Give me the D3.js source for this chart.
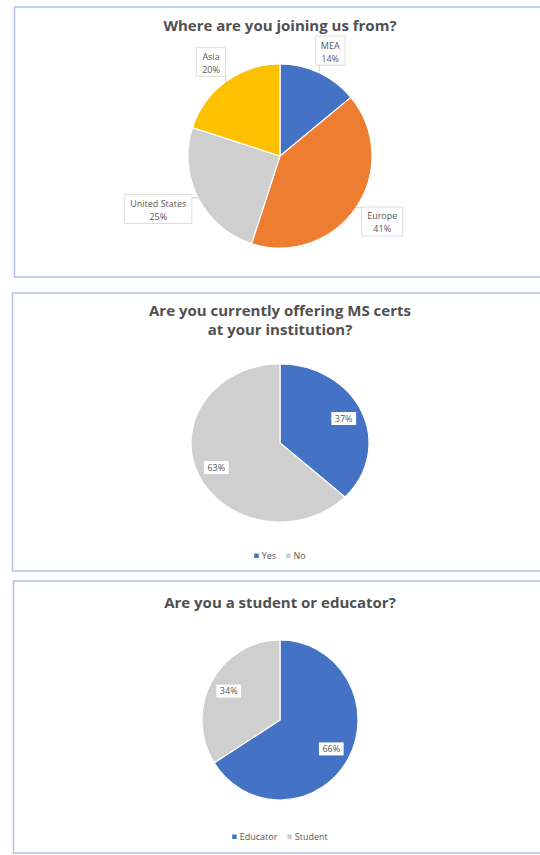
<!DOCTYPE html>
<html>
<head>
<meta charset="utf-8">
<script src="https://cdn.jsdelivr.net/npm/d3@7"></script>
<style>
  body { margin: 0; background: #fff; }
  text { font-family: "Open Sans", sans-serif; }
</style>
</head>
<body>
<div id="chart"></div>
<script>
// Data
const regionLabels = ["MEA", "Europe", "United States", "Asia"];
const regionValues = [14, 41, 25, 20];
const certLabels = ["Yes", "No"];
const certValues = [37, 63];
const roleLabels = ["Educator", "Student"];
const roleValues = [66, 34];

// Palette
const blue = "#4472C4", orange = "#ED7D31", grey = "#CFCFCF", yellow = "#FFC000";
const textColor = "#595959";

const W = 540, H = 855;
const svg = d3.select("#chart").append("svg")
  .attr("width", W).attr("height", H)
  .attr("viewBox", [0, 0, W, H]);

// Panel frames
const panels = [
  { x: 14.5, y: 7, h: 270 },
  { x: 12.5, y: 293, h: 278 },
  { x: 13.5, y: 581, h: 272 }
];
svg.selectAll("rect.panel")
  .data(panels)
  .join("rect")
  .attr("class", "panel")
  .attr("x", d => d.x).attr("y", d => d.y)
  .attr("width", 540).attr("height", d => d.h)
  .attr("fill", "#fff")
  .attr("stroke", "#B4C2E6")
  .attr("stroke-width", 1.5);

const pct = d3.format(".0%");

function drawPie(opts) {
  const data = opts.labels.map((label, i) => ({ label, value: opts.values[i], color: opts.colors[i] }));
  const total = d3.sum(data, d => d.value);
  const arcs = d3.pie().sort(null).value(d => d.value)(data);
  const R = opts.rx;
  const sy = opts.ry / opts.rx;
  const arc = d3.arc().innerRadius(0).outerRadius(R);

  // Title
  const title = svg.append("text")
    .attr("x", opts.cx)
    .attr("text-anchor", "middle")
    .attr("fill", "#505050")
    .style("font-size", "15px")
    .style("font-weight", "bold");
  opts.title.forEach((line, i) => {
    title.append("tspan")
      .attr("x", opts.cx)
      .attr("y", opts.titleY + i * 19)
      .text(line);
  });

  // Slices
  svg.append("g")
    .attr("transform", `translate(${opts.cx},${opts.cy}) scale(1,${sy})`)
    .selectAll("path")
    .data(arcs)
    .join("path")
    .attr("d", arc)
    .attr("fill", d => d.data.color)
    .attr("stroke", "#fff")
    .attr("stroke-width", 1.2)
    .attr("vector-effect", "non-scaling-stroke");

  const labels = svg.append("g");

  if (opts.callout) {
    // Outside callout boxes with category and percent
    arcs.forEach(a => {
      const mid = (a.startAngle + a.endAngle) / 2;
      const s = Math.sin(mid), c = Math.cos(mid);
      const g = labels.append("g");
      const rect = g.append("rect");
      const t1 = g.append("text").attr("text-anchor", "middle").attr("fill", textColor)
        .style("font-size", "9px").text(a.data.label);
      const t2 = g.append("text").attr("text-anchor", "middle").attr("fill", textColor)
        .style("font-size", "9px").text(pct(a.data.value / total));
      const w = Math.max(t1.node().getComputedTextLength(), t2.node().getComputedTextLength()) + 11;
      const h = 29;
      const ax = opts.cx + (R + 11) * s;
      const ay = opts.cy - (R + 10) * c * sy;
      const lx = ax + (w / 2) * s;
      const ly = ay - (h / 2) * c;
      rect.attr("x", lx - w / 2).attr("y", ly - h / 2)
        .attr("width", w).attr("height", h)
        .attr("fill", "#fff").attr("stroke", "#D6D6D6").attr("stroke-width", 0.8);
      t1.attr("x", lx).attr("y", ly - 2);
      t2.attr("x", lx).attr("y", ly + 11);
      // Leader from the pie edge to the nearest point of the box
      const px = opts.cx + R * s, py = opts.cy - R * c * sy;
      const qx = Math.max(lx - w / 2, Math.min(px, lx + w / 2));
      const qy = Math.max(ly - h / 2, Math.min(py, ly + h / 2));
      labels.append("line")
        .attr("x1", px).attr("y1", py).attr("x2", qx).attr("y2", qy)
        .attr("stroke", "#BFBFBF").attr("stroke-width", 0.8);
    });
  } else {
    // Percent labels inside slices
    const inner = d3.arc().innerRadius(R * opts.labelR).outerRadius(R * opts.labelR);
    arcs.forEach(a => {
      const [px, py] = inner.centroid(a);
      const x = opts.cx + px, y = opts.cy + py * sy;
      const g = labels.append("g");
      const rect = g.append("rect");
      const t = g.append("text").attr("x", x).attr("y", y + 3.2)
        .attr("text-anchor", "middle").attr("fill", textColor)
        .style("font-size", "9px").text(pct(a.data.value / total));
      const w = t.node().getComputedTextLength() + 7;
      rect.attr("x", x - w / 2).attr("y", y - 6.5).attr("width", w).attr("height", 13)
        .attr("fill", "#fff");
    });
  }

  // Legend
  if (opts.legendY) {
    const lg = svg.append("g");
    let x = 0;
    data.forEach(d => {
      const item = lg.append("g").attr("transform", `translate(${x},0)`);
      item.append("rect").attr("x", 0).attr("y", -2.5).attr("width", 4.5).attr("height", 4.5)
        .attr("fill", d.color);
      const t = item.append("text").attr("x", 7.5).attr("y", 3.2)
        .attr("fill", textColor).style("font-size", "9px").text(d.label);
      x += 7.5 + t.node().getComputedTextLength() + 10;
    });
    x -= 10;
    lg.attr("transform", `translate(${opts.cx - x / 2},${opts.legendY})`);
  }
}

drawPie({
  labels: regionLabels, values: regionValues,
  colors: [blue, orange, grey, yellow],
  title: ["Where are you joining us from?"], titleY: 31,
  cx: 280, cy: 156, rx: 92, ry: 92,
  callout: true
});

drawPie({
  labels: certLabels, values: certValues,
  colors: [blue, grey],
  title: ["Are you currently offering MS certs", "at your institution?"], titleY: 316,
  cx: 280, cy: 443, rx: 89, ry: 79,
  labelR: 0.78, legendY: 556
});

drawPie({
  labels: roleLabels, values: roleValues,
  colors: [blue, grey],
  title: ["Are you a student or educator?"], titleY: 608,
  cx: 280, cy: 720, rx: 78, ry: 80,
  labelR: 0.75, legendY: 837
});
</script>
</body>
</html>
